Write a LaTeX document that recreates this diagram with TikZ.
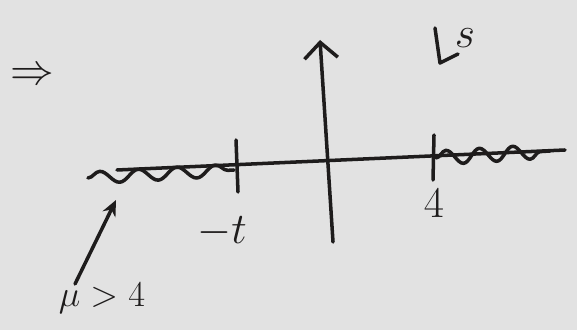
\documentclass[tikz,border=0pt]{standalone}
\usetikzlibrary{arrows.meta,decorations.pathmorphing}
\definecolor{paper}{RGB}{226,226,226}
\definecolor{ink}{RGB}{30,28,28}
\begin{document}
\begin{tikzpicture}[x=0.02cm,y=-0.02cm,
  pen/.style={draw=ink,line width=2pt,line cap=round,line join=round},
  cut/.style={pen,decorate,decoration={snake,amplitude=3.4pt,segment length=22pt}},
  lbl/.style={text=ink,inner sep=0pt,font=\fontsize{24}{28}\selectfont}]
\fill[paper] (0,0) rectangle (577,330);
\useasboundingbox (0,0) rectangle (577,330);
% axes
\coordinate (xl) at (117,170);
\coordinate (xr) at (565,150);
\coordinate (yb) at (333,242);
\coordinate (yt) at (320,40);
\draw[pen] (xl) -- (xr);
\draw[pen,-{Straight Barb[length=9pt,width=19pt,line width=2pt]}] (yb) -- (yt);
% ticks
\coordinate (t1a) at (236,140);
\coordinate (t1b) at (238,192);
\coordinate (t2a) at (434,135);
\coordinate (t2b) at (433,180);
\draw[pen] (t1a) -- (t1b);
\draw[pen] (t2a) -- (t2b);
\node[lbl] (mt) at (222,232) {$-t$};
\node[lbl] (four) at (434,203) {$4$};
% cuts
\coordinate (c1a) at (88,178);
\coordinate (c1b) at (234,170);
\coordinate (c2a) at (436,158);
\coordinate (c2b) at (550,151);
\draw[cut] (c1a) -- (c1b);
\draw[cut,decoration={snake,amplitude=4pt,segment length=19pt}] (c2a) -- (c2b);
% arrow to left cut
\coordinate (aa) at (75,284);
\coordinate (ab) at (116,200);
\draw[pen,-{Stealth[length=9pt,width=8pt]}] (aa) -- (ab);
\node[lbl,font=\fontsize{20}{24}\selectfont] (mu) at (102,298) {$\mu>4$};
% implies sign
\node[lbl] (imp) at (32,76) {$\Rightarrow$};
% plane label
\coordinate (ca) at (435,28);
\coordinate (cb) at (440,63);
\coordinate (cc) at (458,54);
\draw[pen] (ca) -- (cb) -- (cc);
\node[lbl,font=\fontsize{32}{36}\selectfont] (s) at (465,38) {$s$};
\end{tikzpicture}
\end{document}
